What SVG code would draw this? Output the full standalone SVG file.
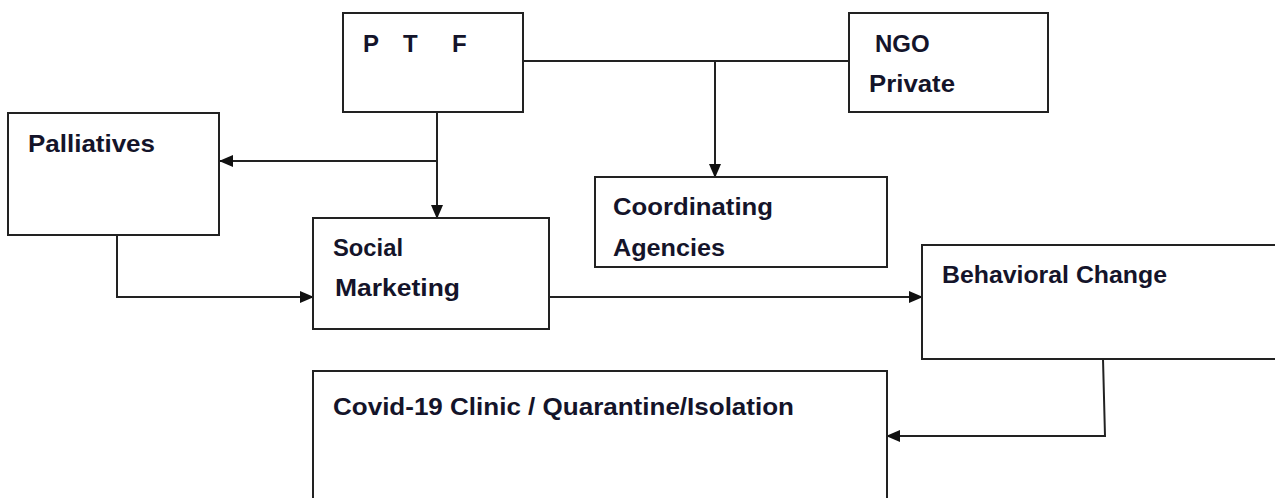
<svg xmlns="http://www.w3.org/2000/svg" width="1275" height="498" viewBox="0 0 1275 498">
<style>
.box{fill:#fff;stroke:#222;stroke-width:2}
.lbl{font-family:"Liberation Sans",Arial,sans-serif;font-weight:bold;font-size:24px;fill:#14142a}
.ln{fill:none;stroke:#222;stroke-width:2}
</style>
<defs>
<marker id="ah" viewBox="0 0 14 12" refX="13" refY="6" markerWidth="14" markerHeight="12" markerUnits="userSpaceOnUse" orient="auto">
<path d="M0,0 L14,6 L0,12 Z" fill="#111"/>
</marker>
</defs>
<rect width="1275" height="498" fill="#fff"/>
<g id="connectors">
<path class="ln" d="M523,61 H849"/>
<path class="ln" d="M715,61 V177" marker-end="url(#ah)"/>
<path class="ln" d="M437,112 V218" marker-end="url(#ah)"/>
<path class="ln" d="M437,161 H220" marker-end="url(#ah)"/>
<path class="ln" d="M117,235 V297 H313" marker-end="url(#ah)"/>
<path class="ln" d="M549,297 H922" marker-end="url(#ah)"/>
<path class="ln" d="M1103,359 L1105,436 H887" marker-end="url(#ah)"/>
</g>
<g id="ptf">
<rect class="box" x="343" y="13" width="180" height="99"/>
<text class="lbl"><tspan x="363" y="52">P</tspan> <tspan x="403" y="52">T</tspan> <tspan x="452" y="52">F</tspan></text>
</g>
<g id="ngo">
<rect class="box" x="849" y="13" width="199" height="99"/>
<text class="lbl" x="875" y="52">NGO</text>
<text class="lbl" x="869" y="92" textLength="86" lengthAdjust="spacingAndGlyphs">Private</text>
</g>
<g id="palliatives">
<rect class="box" x="8" y="113" width="211" height="122"/>
<text class="lbl" x="28" y="152" textLength="127" lengthAdjust="spacingAndGlyphs">Palliatives</text>
</g>
<g id="coordinating">
<rect class="box" x="595" y="177" width="292" height="90"/>
<text class="lbl" x="613" y="215" textLength="160" lengthAdjust="spacingAndGlyphs">Coordinating</text>
<text class="lbl" x="613" y="256" textLength="112" lengthAdjust="spacingAndGlyphs">Agencies</text>
</g>
<g id="social">
<rect class="box" x="313" y="218" width="236" height="111"/>
<text class="lbl" x="333" y="256" textLength="70" lengthAdjust="spacingAndGlyphs">Social</text>
<text class="lbl" x="335" y="296" textLength="125" lengthAdjust="spacingAndGlyphs">Marketing</text>
</g>
<g id="behavioral">
<rect class="box" x="922" y="245" width="380" height="114"/>
<text class="lbl" x="942" y="283" textLength="225" lengthAdjust="spacingAndGlyphs">Behavioral Change</text>
</g>
<g id="covid">
<rect class="box" x="313" y="371" width="574" height="150"/>
<text class="lbl" x="333" y="415" textLength="461" lengthAdjust="spacingAndGlyphs">Covid-19 Clinic / Quarantine/Isolation</text>
</g>
</svg>
